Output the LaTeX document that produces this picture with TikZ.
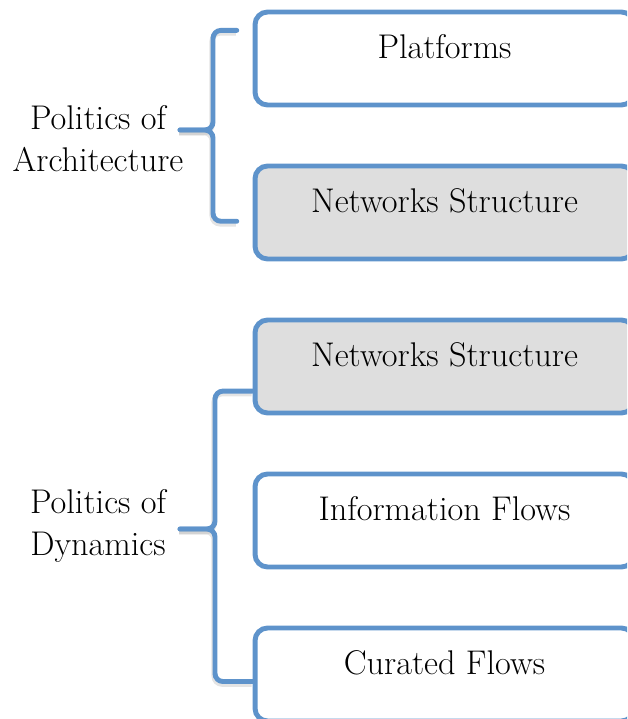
\documentclass[tikz,border=0pt]{standalone}
\usepackage{tikz}
\usetikzlibrary{calc}

\definecolor{edgeblue}{RGB}{94,147,203}
\definecolor{boxgrey}{RGB}{222,222,222}

\tikzset{
	item/.style={draw=edgeblue, line width=2.8pt, rounded corners=0.25cm,
		minimum width=7.58cm, minimum height=1.86cm,
		text height=13pt, text depth=13pt, font=\fontsize{19.5}{24.4}\selectfont},
	shaded/.style={item, fill=boxgrey},
	group/.style={align=center, font=\fontsize{19.5}{24.4}\selectfont},
	brace/.style={draw=edgeblue, line width=2.8pt, rounded corners=0.16cm, line cap=round,
		preaction={draw=black!30, opacity=0.35, line width=3pt, transform canvas={shift={(-0.5pt,-1.5pt)}}}}
}

\begin{document}
\begin{tikzpicture}[x=0.02cm, y=-0.02cm]
			%%%%% START %%%%%
			
			\useasboundingbox (0, 0) rectangle (627, 719);
			\clip (0, 0) rectangle (627, 719);
			
			% boxes on the right
			\node[item]   (plat) at (444.5, 58.5) {Platforms};
			\node[shaded] (netA) at (444.5, 212.5) {Networks Structure};
			
			\node[shaded] (netB) at (444.5, 366.5) {Networks Structure};
			\node[item]   (info) at (444.5, 520.5) {Information Flows};
			\node[item]   (cura) at (444.5, 674.5) {Curated Flows};
			
			% labels on the left
			\node[group] (arch) at (98, 138.6) {Politics of\\Architecture};
			\node[group] (dyna) at (98, 526) {Politics of\\Dynamics};
			
			% first brace
			\coordinate (archTip) at (180, 130);
			\path[brace] ([xshift=-9, yshift=16]plat.west) -| (213, 130) -- (archTip);
			\path[brace] (archTip) -- (213, 130) |- ([xshift=-9, yshift=-5]netA.west);
			
			% second brace
			\coordinate (dynaTip) at (180, 529);
			\path[brace] ([yshift=-14]netB.west) -| (215, 529) -- (dynaTip);
			\path[brace] (dynaTip) -- (215, 529) |- ([yshift=-4]cura.west);
			
			%%%%% END %%%%%
\end{tikzpicture}
\end{document}
